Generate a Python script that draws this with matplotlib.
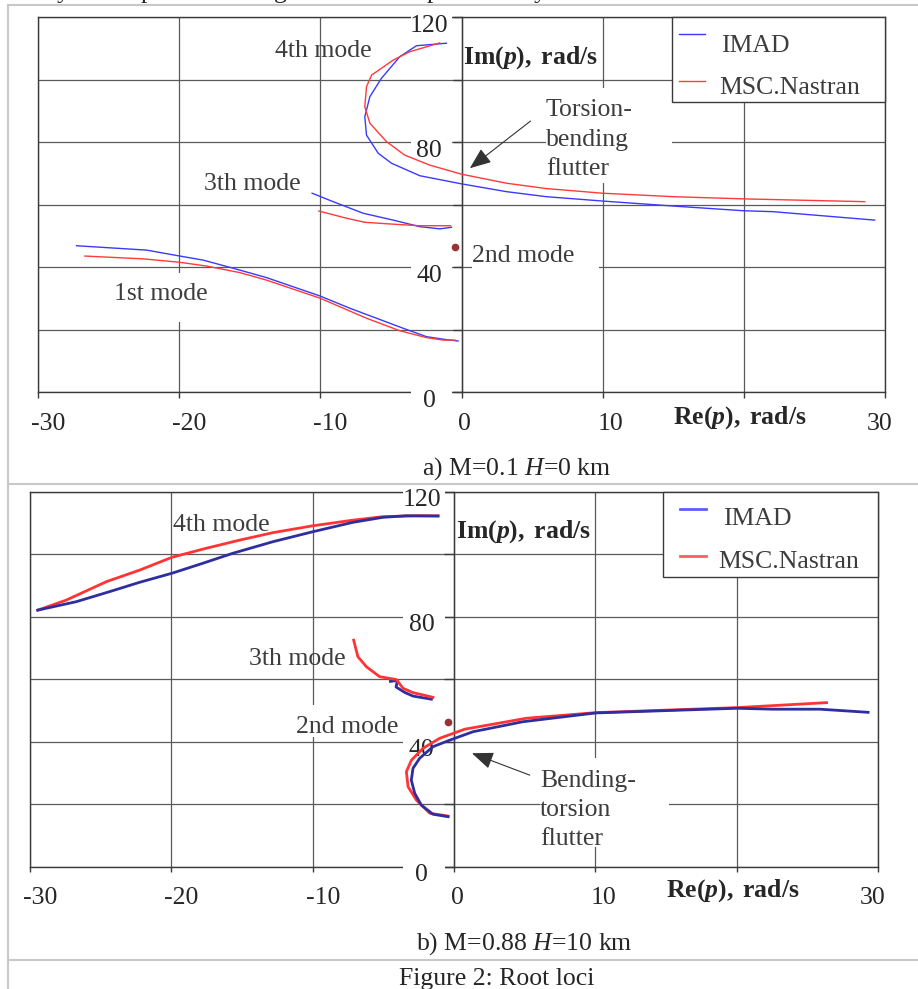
import matplotlib
matplotlib.use('Agg')
import matplotlib.pyplot as plt
from matplotlib.patches import Rectangle
from matplotlib.lines import Line2D

plt.rcParams['font.family'] = 'Liberation Serif'
plt.rcParams['mathtext.fontset'] = 'custom'
plt.rcParams['mathtext.rm'] = 'Liberation Serif'
plt.rcParams['mathtext.it'] = 'Liberation Serif:italic'
plt.rcParams['mathtext.bf'] = 'Liberation Serif:bold'
plt.rcParams['mathtext.bfit'] = 'Liberation Serif:italic:bold'

# ---- panel a) M=0.1, H=0 km ----
a_m1_imad_re = [-27.27, -22.31, -19.95, -18.3, -16.18, -13.81, -10.01, -7.91, -6.02, -4.14, -2.48, -1.3, -0.24]
a_m1_imad_im = [46.9, 45.5, 43.6, 42.3, 39.7, 36.7, 30.8, 26.9, 23.7, 20.5, 17.8, 17.0, 16.4]
a_m1_nas_re = [-26.68, -22.55, -19.95, -18.06, -15.7, -13.81, -10.01, -6.73, -4.37, -2.48, -1.3, -0.47]
a_m1_nas_im = [43.6, 42.7, 41.6, 40.4, 38.3, 35.9, 30.1, 23.7, 19.7, 17.5, 16.7, 16.7]

a_m3_imad_re = [-10.58, -9.09, -6.97, -4.84, -2.95, -1.54, -0.71]
a_m3_imad_im = [63.7, 61.0, 57.3, 55.1, 53.0, 52.3, 52.8]
a_m3_nas_re = [-10.1, -8.14, -6.85, -4.84, -2.95, -0.78]
a_m3_nas_im = [58.0, 55.7, 54.4, 53.8, 53.3, 53.3]

a_m4_imad_re = [-1.07, -3.19, -4.37, -5.67, -6.49, -6.85, -6.73, -5.9, -4.96, -2.95, 0.0, 3.19, 6.0, 10.0, 15.0, 19.97, 22.07, 29.27]
a_m4_imad_im = [111.7, 110.9, 107.4, 100.5, 94.6, 88.2, 82.3, 76.5, 73.3, 69.3, 66.7, 64.2, 62.6, 61.2, 59.6, 58.1, 57.8, 55.1]
a_m4_nas_re = [-1.54, -3.66, -4.84, -6.37, -6.73, -6.85, -6.49, -5.31, -4.02, -2.25, 0.0, 3.19, 6.0, 10.0, 15.0, 19.97, 28.56]
a_m4_nas_im = [111.8, 109.0, 106.3, 101.5, 97.8, 91.4, 86.1, 80.2, 75.9, 72.7, 69.8, 66.9, 65.2, 63.7, 62.6, 61.9, 61.0]

a_m2_re = [-0.47]
a_m2_im = [46.4]

# ---- panel b) M=0.88, H=10 km ----
b_m1_imad_re = [-0.42, -1.49, -2.31, -2.78, -3.02, -2.9, -2.43, -1.49, -0.3, 1.35, 4.89, 10.03, 20.0, 22.58, 25.9, 29.3]
b_m1_imad_im = [16.0, 16.8, 19.7, 23.5, 27.7, 31.5, 34.7, 38.4, 40.5, 43.2, 46.4, 49.2, 50.7, 50.4, 50.4, 49.4]
b_m1_nas_re = [-0.42, -1.71, -2.66, -3.25, -3.37, -3.01, -2.19, -1.01, 0.76, 5.12, 10.03, 19.99, 26.36]
b_m1_nas_im = [16.2, 17.1, 21.3, 25.6, 30.4, 34.1, 37.9, 41.1, 44.0, 47.5, 49.3, 50.9, 52.5]

b_m3_imad_re = [-4.5, -4.0, -4.1, -3.5, -2.9, -1.6]
b_m3_imad_im = [59.3, 59.6, 57.5, 55.8, 54.6, 53.6]
b_m3_nas_re = [-7.1, -6.8, -6.2, -5.26, -4.08, -3.61, -2.9, -1.49]
b_m3_nas_im = [72.5, 67.2, 64.0, 60.8, 59.9, 57.1, 55.7, 54.2]

b_m4_imad_re = [-29.45, -26.73, -24.38, -22.25, -19.96, -17.77, -15.65, -12.81, -9.98, -7.15, -5.03, -3.37, -1.13]
b_m4_imad_im = [82.1, 84.8, 88.0, 91.0, 93.9, 97.1, 100.3, 104.0, 107.2, 110.2, 111.8, 112.3, 112.2]
b_m4_nas_re = [-29.45, -27.44, -24.6, -22.25, -19.96, -17.53, -15.17, -12.81, -9.98, -7.15, -5.03, -2.66, -1.13]
b_m4_nas_im = [82.1, 85.3, 91.2, 94.9, 99.0, 101.9, 104.5, 106.9, 109.1, 110.9, 112.0, 112.3, 112.3]

b_m2_re = [-0.42]
b_m2_im = [46.3]

xtick_vals = [-30, -20, -10, 0, 10, 30]
xtick_labels = ['-30', '-20', '-10', '0', '10', '30']
xlabel_shift = [0.72, 0.72, 0.71, 0.23, 0.56, -0.4]
ytick_vals = [0, 40, 80, 120]
ytick_labels = ['0', '40', '80', '120']

FS = 18.5
TXT = '#3d3d3d'
DARK = '#262626'
GRID = '#5a5a5a'

fig = plt.figure(figsize=(9.18, 9.89), dpi=100)


def px_axes(x0, y0, x1, y1):
    return fig.add_axes([x0 / 918, 1 - y1 / 989, (x1 - x0) / 918, (y1 - y0) / 989])


def setup(ax, ytick_len, xtick_len):
    ax.set_xlim(-30, 30)
    ax.set_ylim(0, 120)
    ax.set_xticks(range(-30, 31, 10))
    ax.set_yticks(range(0, 121, 20))
    ax.set_axisbelow(True)
    ax.grid(True, color=GRID, lw=0.9)
    ax.spines['left'].set_position(('data', 0))
    for s in ax.spines.values():
        s.set_color('#3a3a3a')
        s.set_linewidth(1.0)
    ax.axvline(-30, color='#3a3a3a', lw=1.0, clip_on=False, zorder=2.5)
    ax.tick_params(axis='y', direction='out', length=ytick_len, width=1.0,
                   color='#3a3a3a', labelleft=False)
    ax.tick_params(axis='x', direction='out', length=xtick_len, width=1.0,
                   color='#3a3a3a', labelbottom=False)
    # tick labels with white boxes
    for v, lab in zip(ytick_vals, ytick_labels):
        ax.add_patch(Rectangle((-3.6, v - 5.5), 2.95, 6.2, fc='white', ec='none',
                               zorder=2.6, clip_on=False))
        ax.text(-2.3, v - 4.6, lab, ha='center', va='baseline', fontsize=FS,
                color=DARK, zorder=2.7, clip_on=False)
    for v, lab, sh in zip(xtick_vals, xtick_labels, xlabel_shift):
        ax.text(v + sh, -12.0, lab, ha='center', va='baseline', fontsize=FS,
                color=DARK, clip_on=False)


def legend(ax, box, line_x, y_imad, y_nas, tx_imad, tx_nas, ty_imad, ty_nas, cb, cr, lw):
    ax.add_patch(Rectangle((box[0], box[1]), box[2] - box[0], box[3] - box[1],
                           transform=ax.transAxes, fc='white', ec='#3a3a3a',
                           lw=1.0, zorder=4, clip_on=False))
    ax.add_line(Line2D(line_x, [y_imad, y_imad], transform=ax.transAxes,
                       color=cb, lw=lw, zorder=5))
    ax.add_line(Line2D(line_x, [y_nas, y_nas], transform=ax.transAxes,
                       color=cr, lw=lw, zorder=5))
    ax.text(tx_imad, ty_imad, 'IMAD', transform=ax.transAxes, fontsize=FS,
            color=TXT, va='baseline', zorder=5)
    ax.text(tx_nas, ty_nas, 'MSC.Nastran', transform=ax.transAxes, fontsize=FS,
            color=TXT, va='baseline', zorder=5)


xlab = r'$\mathbf{Re(}\mathbfit{p}\mathbf{),\ rad/s}$'
ylab = r'$\mathbf{Im(}\mathbfit{p}\mathbf{),\ rad/s}$'

# ---------------- panel a ----------------
ax1 = px_axes(38, 17.3, 885, 392.3)
setup(ax1, 6.5, 4)
blue_a, red_a = '#3a3aff', '#ff3a3a'
for re, im, c in [(a_m1_imad_re, a_m1_imad_im, blue_a), (a_m1_nas_re, a_m1_nas_im, red_a),
                  (a_m3_imad_re, a_m3_imad_im, blue_a), (a_m3_nas_re, a_m3_nas_im, red_a),
                  (a_m4_imad_re, a_m4_imad_im, blue_a), (a_m4_nas_re, a_m4_nas_im, red_a)]:
    ax1.plot(re, im, color=c, lw=1.0, zorder=3)
ax1.plot(a_m2_re, a_m2_im, 'o', ms=4.5, color='#993333', zorder=3)

ax1.add_patch(Rectangle((-25.19, 22.6), 7.86, 15.6, fc='white', ec='none', zorder=2.6))
ax1.add_patch(Rectangle((0.73, 37.5), 8.99, 11.9, fc='white', ec='none', zorder=2.6))
ax1.add_patch(Rectangle((5.97, 67.0), 8.92, 30.4, fc='white', ec='none', zorder=2.6))
ax1.text(-13.22, 107.2, '4th mode', fontsize=FS, color=TXT, va='baseline', zorder=2.7)
ax1.text(-18.25, 64.7, '3th mode', fontsize=FS, color=TXT, va='baseline', zorder=2.7)
ax1.text(-24.62, 29.5, '1st mode', fontsize=FS, color=TXT, va='baseline', zorder=2.7)
ax1.text(0.73, 41.7, '2nd mode', fontsize=FS, color=TXT, va='baseline', zorder=2.7)
ax1.text(5.97, 69.5, 'Torsion-\nbending\nflutter', fontsize=FS, color=TXT,
         va='baseline', ha='left', linespacing=1.43, zorder=2.7)
ax1.annotate('', xy=(0.59, 71.7), xytext=(4.89, 86.8),
             arrowprops=dict(arrowstyle='-|>,head_length=0.55,head_width=0.22',
                             color='#333333', lw=0.8, mutation_scale=24,
                             shrinkA=0, shrinkB=0), zorder=3)
ax1.text(19.69, -10.1, xlab, fontsize=FS, color=DARK, ha='center', va='baseline', clip_on=False)
ax1.text(4.91, 105.3, ylab, fontsize=FS, color=DARK, ha='center', va='baseline', zorder=2.7)
legend(ax1, (0.749, 0.774, 1.0, 1.0), [0.757, 0.7875], 0.955, 0.831,
       0.807, 0.804, 0.908, 0.795, '#3a3aff', '#ff3a3a', 1.0)

# ---------------- panel b ----------------
ax2 = px_axes(30, 491.7, 878, 866.7)
setup(ax2, 7.3, 3.5)
blue_b, red_b = '#2e2ea0', '#ff3535'
for re, im, c in [(b_m4_nas_re, b_m4_nas_im, red_b), (b_m4_imad_re, b_m4_imad_im, blue_b),
                  (b_m3_imad_re, b_m3_imad_im, blue_b), (b_m3_nas_re, b_m3_nas_im, red_b),
                  (b_m1_nas_re, b_m1_nas_im, red_b), (b_m1_imad_re, b_m1_imad_im, blue_b)]:
    ax2.plot(re, im, color=c, lw=2.0, zorder=3)
ax2.plot(b_m2_re, b_m2_im, 'o', ms=4.5, color='#993333', zorder=3)

ax2.add_patch(Rectangle((-11.33, 41.5), 7.77, 10.3, fc='white', ec='none', zorder=2.6))
ax2.add_patch(Rectangle((6.07, 6.3), 9.13, 28.5, fc='white', ec='none', zorder=2.6))
ax2.text(-19.89, 107.5, '4th mode', fontsize=FS, color=TXT, va='baseline', zorder=2.7)
ax2.text(-14.51, 64.5, '3th mode', fontsize=FS, color=TXT, va='baseline', zorder=2.7)
ax2.text(-11.16, 42.7, '2nd mode', fontsize=FS, color=TXT, va='baseline', zorder=2.7)
ax2.text(6.07, 6.9, 'Bending-\ntorsion\nflutter', fontsize=FS, color=TXT,
         va='baseline', ha='left', linespacing=1.43, zorder=2.7)
ax2.annotate('', xy=(1.27, 36.3), xytext=(5.36, 29.3),
             arrowprops=dict(arrowstyle='-|>,head_length=0.55,head_width=0.22',
                             color='#333333', lw=0.8, mutation_scale=24,
                             shrinkA=0, shrinkB=0), zorder=3)
ax2.text(19.72, -9.6, xlab, fontsize=FS, color=DARK, ha='center', va='baseline', clip_on=False)
ax2.text(4.91, 105.3, ylab, fontsize=FS, color=DARK, ha='center', va='baseline', zorder=2.7)
legend(ax2, (0.747, 0.7725, 0.9997, 1.0), [0.7665, 0.797], 0.954, 0.829,
       0.817, 0.812, 0.911, 0.796, '#5c5cff', '#ff5c5c', 2.0)

# ---------------- captions and table lines ----------------
fig.text(516.7 / 918, 1 - 475 / 989, 'a) M=0.1 $H$=0 km', fontsize=FS, color=DARK,
         ha='center', va='baseline')
fig.text(524 / 918, 1 - 950 / 989, 'b) M=0.88 $H$=10 km', fontsize=FS, color=DARK,
         ha='center', va='baseline')
fig.text(496.7 / 918, 1 - 985 / 989, 'Figure 2: Root loci', fontsize=FS, color=DARK,
         ha='center', va='baseline')

# descenders of the line of text above the table
for ch, xp in [('y', 63), ('p', 147), ('g', 280), ('p', 433), ('y', 540)]:
    fig.text(xp / 918, 1 + 2.5 / 989, ch, fontsize=FS, color=DARK, ha='center', va='baseline')

tc = '#c8c8c8'
for y in [5, 484, 960]:
    fig.add_artist(Line2D([8 / 918, 1], [1 - y / 989, 1 - y / 989], color=tc, lw=1.5,
                          transform=fig.transFigure))
fig.add_artist(Line2D([8 / 918, 8 / 918], [1 - 5 / 989, 0], color=tc, lw=1.5,
                      transform=fig.transFigure))

fig.savefig('out.png', dpi=100)
